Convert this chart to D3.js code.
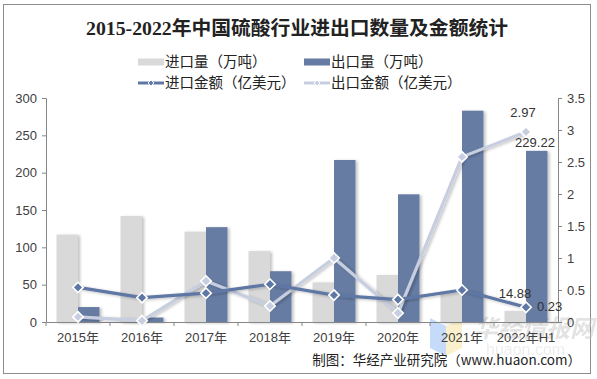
<!DOCTYPE html>
<html>
<head>
<meta charset="utf-8">
<script src="https://cdn.jsdelivr.net/npm/d3@7"></script>
<style>
  body { margin: 0; background: #fff; }
  svg { display: block; font-family: "Liberation Sans", Arial, "Noto Sans CJK SC", sans-serif; }
</style>
</head>
<body>
<div id="chart"></div>
<script>
// chart data
const categories = ["2015年", "2016年", "2017年", "2018年", "2019年", "2020年", "2021年", "2022年H1"];
const importVolume = [117, 142, 121, 95, 53, 63, 39, 14.88];      // 万吨
const exportVolume = [20, 6, 127, 68, 217, 171, 283, 229.22];     // 万吨
const importValue = [0.54, 0.38, 0.45, 0.59, 0.42, 0.35, 0.50, 0.23]; // 亿美元
const exportValue = [0.08, 0.02, 0.64, 0.25, 1.00, 0.14, 2.58, 2.97]; // 亿美元
const leftTicks = [0, 50, 100, 150, 200, 250, 300];
const rightTicks = [0, 0.5, 1, 1.5, 2, 2.5, 3, 3.5];

const W = 597, H = 379;
const plot = {left: 46, right: 558, top: 98, bottom: 322};

const svg = d3.select("#chart")
  .append("svg")
    .attr("width", W)
    .attr("height", H);

// soft shadow like the office chart
const defs = svg.append("defs");
const sh = defs.append("filter").attr("id", "shadow")
  .attr("x", "-20%").attr("y", "-20%").attr("width", "160%").attr("height", "160%");
sh.append("feDropShadow")
  .attr("dx", 2).attr("dy", 1).attr("stdDeviation", 1.4)
  .attr("flood-color", "#000").attr("flood-opacity", 0.25);

// outer frame
svg.append("rect")
  .attr("x", 3.5).attr("y", 4.5)
  .attr("width", 587).attr("height", 369)
  .attr("fill", "none").attr("stroke", "#8c8c8c");

// title
svg.append("text")
  .attr("x", 297).attr("y", 35)
  .attr("text-anchor", "middle")
  .style("font-family", "'Liberation Serif', 'DejaVu Serif', 'Noto Sans CJK SC', serif")
  .style("font-weight", "bold")
  .style("font-size", "19.8px")
  .attr("fill", "#222")
  .text("2015-2022年中国硫酸行业进出口数量及金额统计");

// scales
const x = d3.scaleBand()
  .domain(categories)
  .range([plot.left, plot.right])
  .padding(0);

const xSub = d3.scaleBand()
  .domain(["imp", "exp"])
  .range([0, x.bandwidth()])
  .paddingInner(0)
  .paddingOuter(0.49);

const yL = d3.scaleLinear().domain([0, 300]).range([plot.bottom, plot.top]);
const yR = d3.scaleLinear().domain([0, 3.5]).range([plot.bottom, plot.top]);

const axisColor = "#868686";
const labelColor = "#404040";

// watermark (sits behind the marks)
const wm = svg.append("g").attr("opacity", 0.5);
wm.append("path").attr("d", "M430,318 L446,326 L446,356 L430,348 Z").attr("fill", "#8db8f5");
wm.append("path").attr("d", "M446,326 L462,318 L462,348 L446,356 Z").attr("fill", "#f6e29a");
wm.append("text").attr("x", 474).attr("y", 337)
  .style("font-size", "24px").style("font-weight", "bold").style("font-style", "italic")
  .style("font-family", "'Noto Sans CJK SC', sans-serif")
  .attr("fill", "#c8c8c8").text("华经情报网");
wm.append("text").attr("x", 486).attr("y", 355)
  .style("font-size", "16px").attr("fill", "#dcdcdc").text("huaon.com");

// bars
const barData = categories.map((c, i) => ({c, imp: importVolume[i], exp: exportVolume[i]}));
const groups = svg.append("g").selectAll("g")
  .data(barData)
  .join("g")
    .attr("transform", d => `translate(${x(d.c)},0)`);

groups.append("rect")
  .attr("x", xSub("imp"))
  .attr("width", xSub.bandwidth())
  .attr("y", d => yL(d.imp))
  .attr("height", d => yL(0) - yL(d.imp))
  .attr("fill", "#d9d9d9")
  .attr("filter", "url(#shadow)");

groups.append("rect")
  .attr("x", xSub("exp"))
  .attr("width", xSub.bandwidth())
  .attr("y", d => yL(d.exp))
  .attr("height", d => yL(0) - yL(d.exp))
  .attr("fill", "#667ba3")
  .attr("filter", "url(#shadow)");

// left axis
const gL = svg.append("g")
  .attr("transform", `translate(${plot.left},0)`)
  .call(d3.axisLeft(yL).tickValues(leftTicks).tickSize(4).tickSizeOuter(4).tickPadding(5));
// right axis
const gR = svg.append("g")
  .attr("transform", `translate(${plot.right},0)`)
  .call(d3.axisRight(yR).tickValues(rightTicks).tickSize(4).tickSizeOuter(4).tickPadding(5)
    .tickFormat(d => d3.format("~g")(d)));

// bottom axis (labels at centre, ticks at band edges)
const gX = svg.append("g")
  .attr("transform", `translate(0,${plot.bottom})`)
  .call(d3.axisBottom(x).tickSize(0).tickPadding(11));
gX.selectAll(".tick")
  .append("line")
    .attr("x1", -x.step() / 2).attr("x2", -x.step() / 2)
    .attr("y1", 0).attr("y2", 4);
gX.append("line")
  .attr("x1", plot.right).attr("x2", plot.right)
  .attr("y1", 0).attr("y2", 4);

[gL, gR, gX].forEach(g => {
  g.select(".domain").attr("stroke", axisColor);
  g.selectAll(".tick line").attr("stroke", axisColor);
  g.selectAll("text")
    .attr("fill", labelColor)
    .style("font-size", "13px")
    .style("font-family", "'Liberation Sans', Arial, 'Noto Sans CJK SC', sans-serif");
});

// lines with diamond markers
const cx = c => x(c) + x.bandwidth() / 2;
const diamond = d3.symbol().type(d3.symbolDiamond2).size(70);

function drawLine(values, color, markFill) {
  const pts = categories.map((c, i) => [cx(c), yR(values[i])]);
  svg.append("path")
    .datum(pts)
    .attr("d", d3.line())
    .attr("fill", "none")
    .attr("stroke", color)
    .attr("stroke-width", 3.2)
    .attr("stroke-linejoin", "round")
    .attr("filter", "url(#shadow)");
  svg.append("g").selectAll("path")
    .data(pts)
    .join("path")
      .attr("transform", d => `translate(${d[0]},${d[1]})`)
      .attr("d", diamond)
      .attr("fill", markFill)
      .attr("stroke", "#fff")
      .attr("stroke-width", 1.6);
}
drawLine(exportValue, "#c6cee0", "#c6cee0");
drawLine(importValue, "#5f77a4", "#5f77a4");

// data labels for the last period
const lastC = categories[categories.length - 1];
const lastI = categories.length - 1;
const lbl = (t, px, py, anchor) => svg.append("text")
  .attr("x", px).attr("y", py)
  .attr("text-anchor", anchor)
  .attr("fill", "#333")
  .style("font-size", "13px")
  .text(t);
lbl(d3.format(".2f")(exportValue[lastI]), cx(lastC) - 3, yR(exportValue[lastI]) - 15, "middle");
lbl(d3.format(".2f")(exportVolume[lastI]), cx(lastC) + 9, yL(exportVolume[lastI]) - 4, "middle");
lbl(d3.format(".2f")(importVolume[lastI]), cx(lastC) - 11, yR(importValue[lastI]) - 9, "middle");
lbl(d3.format(".2f")(importValue[lastI]), cx(lastC) + 11, yR(importValue[lastI]) + 4, "start");

// legend
const leg = svg.append("g").style("font-size", "14.5px")
  .style("font-family", "'Noto Sans CJK SC', sans-serif");
const legendItems = [
  {name: "进口量（万吨）", type: "bar", color: "#d9d9d9", x: 138, y: 62},
  {name: "出口量（万吨）", type: "bar", color: "#667ba3", x: 304, y: 62},
  {name: "进口金额（亿美元）", type: "line", color: "#5f77a4", x: 138, y: 83},
  {name: "出口金额（亿美元）", type: "line", color: "#c6cee0", x: 304, y: 83}
];
legendItems.forEach(it => {
  const g = leg.append("g").attr("transform", `translate(${it.x},${it.y})`);
  if (it.type === "bar") {
    g.append("rect").attr("x", 0).attr("y", -3.5).attr("width", 26).attr("height", 7).attr("fill", it.color);
  } else {
    g.append("line").attr("x1", 0).attr("x2", 26).attr("y1", 0).attr("y2", 0)
      .attr("stroke", it.color).attr("stroke-width", 3);
    g.append("path").attr("transform", "translate(13,0)")
      .attr("d", d3.symbol().type(d3.symbolDiamond2).size(22))
      .attr("fill", it.color).attr("stroke", "#fff").attr("stroke-width", 1);
  }
  g.append("text").attr("x", 27).attr("y", 5).attr("fill", "#222").text(it.name);
});

// source
svg.append("text")
  .attr("x", 581).attr("y", 365)
  .attr("text-anchor", "end")
  .attr("fill", "#222")
  .style("font-size", "13.5px")
  .style("font-family", "'Noto Sans CJK SC', sans-serif")
  .text("制图：华经产业研究院（www.huaon.com）");
</script>
</body>
</html>
